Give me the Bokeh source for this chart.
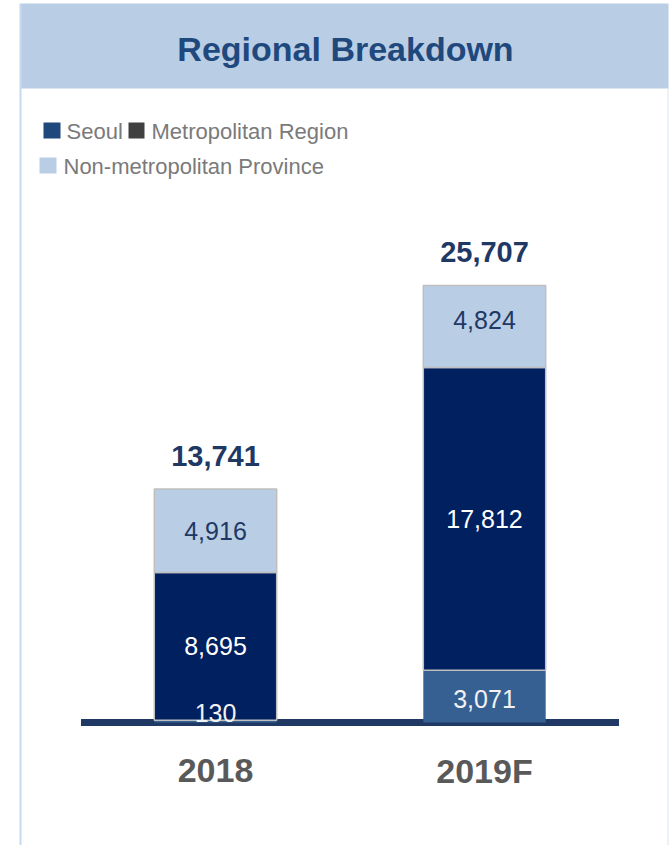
from bokeh.plotting import figure
from bokeh.models import Range1d, BoxAnnotation, Label, ColumnDataSource
from bokeh.core.properties import value
from bokeh.embed import file_html
from bokeh.resources import INLINE
import numpy as np

# ---- data ----
years = ["2018", "2019F"]
seoul = [130, 3071]
metropolitan = [8695, 17812]
non_metro = [4916, 4824]
series_names = ["Seoul", "Metropolitan Region", "Non-metropolitan Province"]
title_text = "Regional Breakdown"

# ---- styles ----
C_BOTTOM = "#376092"
C_MID = "#002060"
C_TOP = "#b9cde5"
C_TITLEBAR = "#b9cde5"
C_NAVY = "#1f3864"
FONT = "Liberation Sans"

W, H = 670, 845
PX_PER_UNIT_X = 269.0
X0_PX = 215.0
PX_PER_UNIT_Y = 0.0170
BASE_PX = 722.0

xs = np.arange(len(years))
totals = [a + b + c for a, b, c in zip(seoul, metropolitan, non_metro)]

p = figure(width=W, height=H, output_backend="svg", toolbar_location=None,
           x_range=Range1d(-X0_PX / PX_PER_UNIT_X, (W - X0_PX) / PX_PER_UNIT_X),
           y_range=Range1d(-(H - BASE_PX) / PX_PER_UNIT_Y, BASE_PX / PX_PER_UNIT_Y),
           min_border=0, outline_line_color=None)
p.axis.visible = False
p.grid.visible = False
p.background_fill_color = "white"
p.border_fill_color = "white"

# title bar and frame border
p.add_layout(BoxAnnotation(left=20, right=668, top=H - 3, bottom=H - 88,
                           left_units="screen", right_units="screen",
                           top_units="screen", bottom_units="screen",
                           fill_color=C_TITLEBAR, fill_alpha=1.0, line_color=None, level="underlay"))
p.add_layout(BoxAnnotation(left=19, right=21, top=H - 3, bottom=0,
                           left_units="screen", right_units="screen",
                           top_units="screen", bottom_units="screen",
                           fill_color="#c6d9f0", fill_alpha=1.0, line_color=None, level="underlay"))
p.add_layout(BoxAnnotation(left=667, right=668, top=H - 88, bottom=0,
                           left_units="screen", right_units="screen",
                           top_units="screen", bottom_units="screen",
                           fill_color="#dce6f2", fill_alpha=1.0, line_color=None, level="underlay"))

# baseline axis line
p.segment(x0=[xs[0] - 0.5], x1=[xs[-1] + 0.5], y0=[0], y1=[0],
          line_color=C_NAVY, line_width=7)

src = ColumnDataSource(dict(x=xs, seoul=seoul, metro=metropolitan, non=non_metro))
p.vbar_stack(["seoul", "metro", "non"], x="x", width=0.455, source=src,
             color=[C_BOTTOM, C_MID, C_TOP],
             line_color=["#bfbfbf", "#bfbfbf", "#bfbfbf"],
             line_alpha=[0.0, 1.0, 1.0], line_width=1.5)

# segment labels
s1 = np.array(seoul)
s2 = s1 + np.array(metropolitan)
s3 = s2 + np.array(non_metro)
fmt = lambda v: f"{v:,}"
p.text(x=xs, y=s1 / 2.0, text=[fmt(v) for v in seoul], text_align="center",
       text_baseline="middle", text_color="#f2f2f2", text_font=value(FONT),
       text_font_size="25px", y_offset=[-8, 3])
p.text(x=xs, y=(s1 + s2) / 2.0, text=[fmt(v) for v in metropolitan], text_align="center",
       text_baseline="middle", text_color="white", text_font=value(FONT),
       text_font_size="25px")
p.text(x=xs, y=(s2 + s3) / 2.0, text=[fmt(v) for v in non_metro], text_align="center",
       text_baseline="middle", text_color=C_NAVY, text_font=value(FONT),
       text_font_size="25px", y_offset=[0, -6])
# totals
p.text(x=xs, y=totals, text=[fmt(v) for v in totals], text_align="center",
       text_baseline="middle", text_color=C_NAVY, text_font=value(FONT),
       text_font_style="bold", text_font_size="29px", y_offset=-33)
# category labels
p.text(x=xs, y=[0] * len(xs), text=years, text_align="center",
       text_baseline="middle", text_color="#595959", text_font=value(FONT),
       text_font_style="bold", text_font_size="34px", y_offset=48)

p.add_layout(Label(x=345, y=H - 48, x_units="screen", y_units="screen", text=title_text,
                   text_align="center", text_baseline="middle", text_color="#1f497d",
                   text_font=FONT, text_font_style="bold",
                   text_font_size="34px"))

# legend
leg_colors = ["#1f497d", "#404040", C_TOP]
leg_boxes = [(43, 60, 122, 138), (128, 144, 122, 138), (39, 56, 157, 173)]
leg_text_pos = [(66, 131), (151, 131), (63, 166)]
for name, col, (l, r, t, b), (tx, ty) in zip(series_names, leg_colors, leg_boxes, leg_text_pos):
    p.add_layout(BoxAnnotation(left=l, right=r, top=H - t, bottom=H - b,
                               left_units="screen", right_units="screen",
                               top_units="screen", bottom_units="screen",
                               fill_color=col, fill_alpha=1.0, line_color=None))
    p.add_layout(Label(x=tx, y=H - ty, x_units="screen", y_units="screen", text=name,
                       text_align="left", text_baseline="middle", text_color="#7a7a7a",
                       text_font=FONT, text_font_size="22px"))

open("out.html", "w").write(file_html(p, INLINE))
